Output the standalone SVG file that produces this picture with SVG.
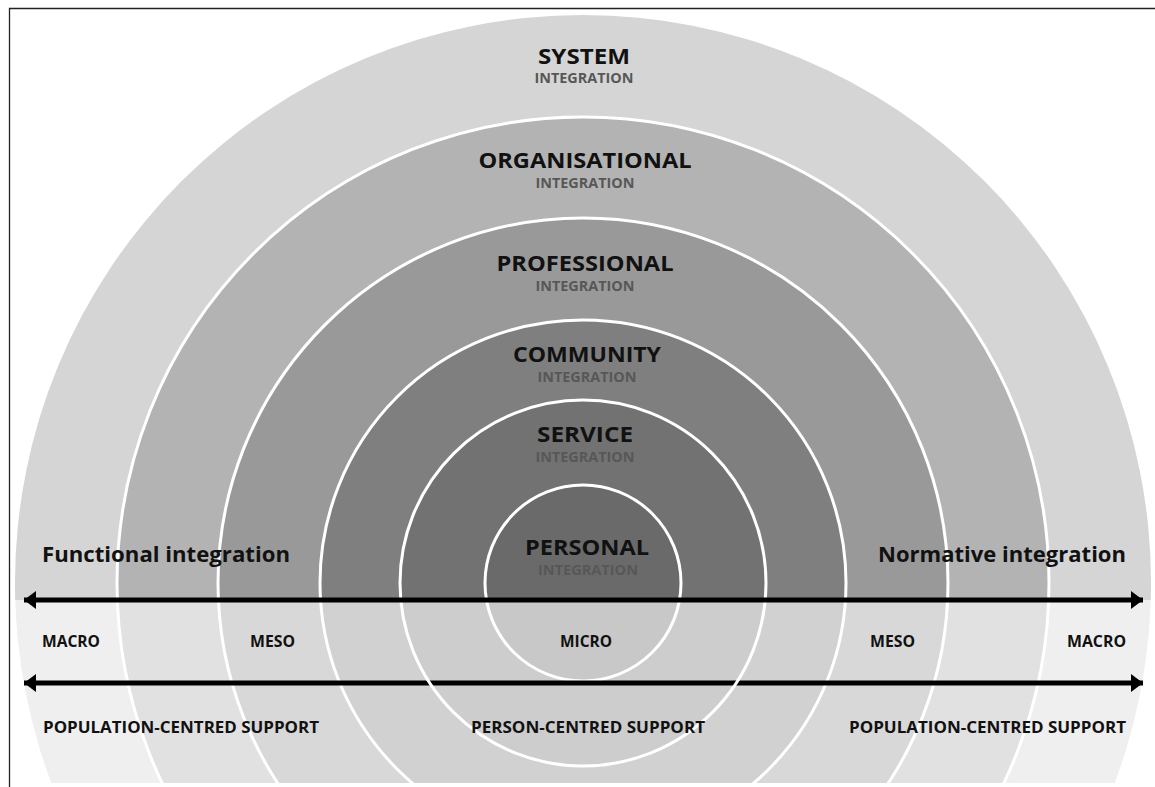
<svg xmlns="http://www.w3.org/2000/svg" width="1155" height="787" viewBox="0 0 1155 787">
  <style>
    .lvl { font-family: "Open Sans", "Liberation Sans", sans-serif; font-weight: 700; font-size: 22px; fill: #111; text-anchor: middle; }
    .sub { font-family: "Open Sans", "Liberation Sans", sans-serif; font-weight: 700; font-size: 14px; fill: #575757; text-anchor: middle; }
    .axis { font-family: "Open Sans", "Liberation Sans", sans-serif; font-weight: 700; font-size: 21px; fill: #111; }
    .scale { font-family: "Open Sans", "Liberation Sans", sans-serif; font-weight: 700; font-size: 16px; fill: #111; }
    .ring { fill: none; stroke: #fff; stroke-width: 3; }
    .arrow { stroke: #000; stroke-width: 5; fill: none; marker-start: url(#headL); marker-end: url(#headR); }
  </style>
  <defs>
    <clipPath id="upper"><rect x="0" y="0" width="1155" height="600"/></clipPath>
    <clipPath id="lower"><rect x="0" y="600" width="1155" height="183"/></clipPath>
    <clipPath id="all"><rect x="0" y="0" width="1155" height="783"/></clipPath>
    <clipPath id="band"><rect x="0" y="678" width="1155" height="10"/></clipPath>
    <marker id="headR" markerUnits="userSpaceOnUse" markerWidth="14" markerHeight="20" refX="12" refY="10" orient="auto" viewBox="0 0 14 20">
      <path d="M0,1 L12,10 L0,19 Z" fill="#000"/>
    </marker>
    <marker id="headL" markerUnits="userSpaceOnUse" markerWidth="14" markerHeight="20" refX="2" refY="10" orient="auto" viewBox="0 0 14 20">
      <path d="M14,1 L2,10 L14,19 Z" fill="#000"/>
    </marker>
  </defs>

  <rect width="1155" height="787" fill="#fff"/>

  <!-- upper half: integration levels -->
  <g clip-path="url(#upper)">
    <circle cx="583" cy="583" r="568" fill="#d5d5d5"/>
    <circle cx="583" cy="583" r="466" fill="#b3b3b3"/>
    <circle cx="583" cy="583" r="365" fill="#999999"/>
    <circle cx="583" cy="583" r="263" fill="#7f7f7f"/>
    <circle cx="583" cy="583" r="183" fill="#727272"/>
    <circle cx="583" cy="583" r="98" fill="#6a6a6a"/>
  </g>
  <!-- lower half: scale of support -->
  <g clip-path="url(#lower)">
    <circle cx="583" cy="583" r="568" fill="#efefef"/>
    <circle cx="583" cy="583" r="466" fill="#e1e1e1"/>
    <circle cx="583" cy="583" r="365" fill="#d8d8d8"/>
    <circle cx="583" cy="583" r="263" fill="#d1d1d1"/>
    <circle cx="583" cy="583" r="183" fill="#cdcdcd"/>
    <circle cx="583" cy="583" r="98" fill="#c8c8c8"/>
  </g>
  <!-- ring outlines -->
  <g clip-path="url(#all)">
    <circle class="ring" cx="583" cy="583" r="466"/>
    <circle class="ring" cx="583" cy="583" r="365"/>
    <circle class="ring" cx="583" cy="583" r="263"/>
    <circle class="ring" cx="583" cy="583" r="183"/>
    <circle class="ring" cx="583" cy="583" r="98"/>
  </g>

  <!-- frame -->
  <path d="M9.5,787 V8.5 H1155" fill="none" stroke="#222" stroke-width="1.3"/>

  <!-- level labels -->
  <g id="system">
    <text class="lvl" x="584" y="64" textLength="92" lengthAdjust="spacingAndGlyphs">SYSTEM</text>
    <text class="sub" x="584" y="83" textLength="99" lengthAdjust="spacingAndGlyphs">INTEGRATION</text>
  </g>
  <g id="organisational">
    <text class="lvl" x="585" y="168" textLength="213" lengthAdjust="spacingAndGlyphs">ORGANISATIONAL</text>
    <text class="sub" x="585" y="188" textLength="99" lengthAdjust="spacingAndGlyphs">INTEGRATION</text>
  </g>
  <g id="professional">
    <text class="lvl" x="585" y="271" textLength="177" lengthAdjust="spacingAndGlyphs">PROFESSIONAL</text>
    <text class="sub" x="585" y="291" textLength="99" lengthAdjust="spacingAndGlyphs">INTEGRATION</text>
  </g>
  <g id="community">
    <text class="lvl" x="587" y="362" textLength="148" lengthAdjust="spacingAndGlyphs">COMMUNITY</text>
    <text class="sub" x="587" y="382" textLength="99" lengthAdjust="spacingAndGlyphs">INTEGRATION</text>
  </g>
  <g id="service">
    <text class="lvl" x="585" y="442" textLength="96" lengthAdjust="spacingAndGlyphs">SERVICE</text>
    <text class="sub" x="585" y="462" textLength="99" lengthAdjust="spacingAndGlyphs">INTEGRATION</text>
  </g>
  <g id="personal">
    <text class="lvl" x="587" y="555" textLength="124" lengthAdjust="spacingAndGlyphs">PERSONAL</text>
    <text class="sub" x="588" y="575" textLength="100" lengthAdjust="spacingAndGlyphs">INTEGRATION</text>
  </g>

  <!-- axis labels -->
  <g id="functional">
    <text class="axis" x="42" y="562" textLength="248" lengthAdjust="spacingAndGlyphs">Functional integration</text>
  </g>
  <g id="normative">
    <text class="axis" x="878" y="562" textLength="248" lengthAdjust="spacingAndGlyphs">Normative integration</text>
  </g>

  <!-- connectors -->
  <g id="connectors">
    <line class="arrow" x1="24" y1="600" x2="1143" y2="600"/>
    <line class="arrow" x1="24" y1="683" x2="1143" y2="683"/>
    <!-- service ring passes over the lower arrow -->
    <circle class="ring" cx="583" cy="583" r="183" clip-path="url(#band)"/>
  </g>

  <!-- scale labels -->
  <g id="scale">
    <text class="scale" x="42" y="647" textLength="58" lengthAdjust="spacingAndGlyphs">MACRO</text>
    <text class="scale" x="250" y="647" textLength="45" lengthAdjust="spacingAndGlyphs">MESO</text>
    <text class="scale" x="560" y="647" textLength="52" lengthAdjust="spacingAndGlyphs">MICRO</text>
    <text class="scale" x="870" y="647" textLength="45" lengthAdjust="spacingAndGlyphs">MESO</text>
    <text class="scale" x="1067" y="647" textLength="59" lengthAdjust="spacingAndGlyphs">MACRO</text>
    <text class="scale" x="43" y="733" textLength="276" lengthAdjust="spacingAndGlyphs">POPULATION-CENTRED SUPPORT</text>
    <text class="scale" x="471" y="733" textLength="234" lengthAdjust="spacingAndGlyphs">PERSON-CENTRED SUPPORT</text>
    <text class="scale" x="849" y="733" textLength="277" lengthAdjust="spacingAndGlyphs">POPULATION-CENTRED SUPPORT</text>
  </g>
</svg>
